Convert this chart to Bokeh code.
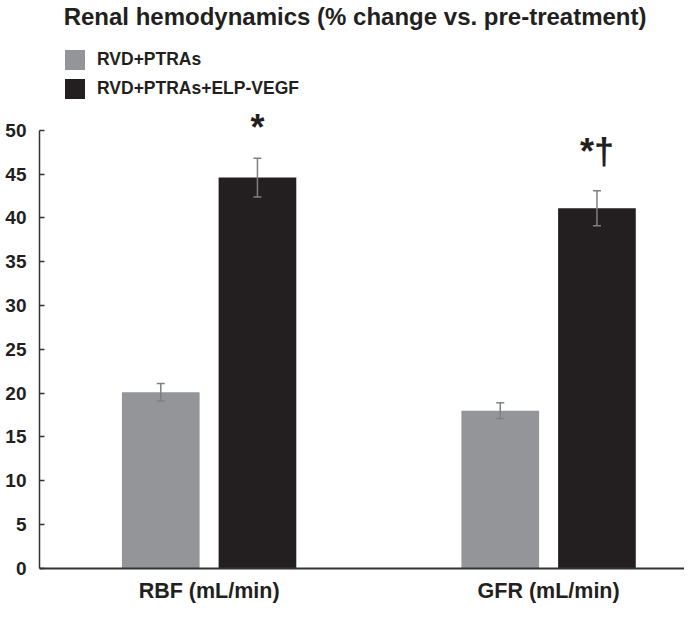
from bokeh.plotting import figure
from bokeh.models import (Range1d, FixedTicker, Legend, LegendItem, Whisker,
                          ColumnDataSource, Label, TeeHead)
from bokeh.core.properties import value
from bokeh.embed import file_html
from bokeh.resources import INLINE

# ---- data ----
categories = ["RBF (mL/min)", "GFR (mL/min)"]
series_names = ["RVD+PTRAs", "RVD+PTRAs+ELP-VEGF"]
ptras_values = [20.1, 18.0]
ptras_errors = [1.0, 0.9]
vegf_values = [44.6, 41.1]
vegf_errors = [2.2, 2.0]
sig_labels = ["*", "*\u2020"]
sig_y = [50.3, 47.6]
y_ticks = [0, 5, 10, 15, 20, 25, 30, 35, 40, 45, 50]
title_text = "Renal hemodynamics (% change vs. pre-treatment)"

# ---- styling / geometry ----
FONT = "Liberation Sans"
GRAY = "#939598"
BLACK = "#231f20"
ERR = "#808080"
AXIS = "#333333"
OFFSET = 0.1424
BAR_W = 0.2288
W, H = 684, 607
LEFT = 39
PX = 8.762          # pixels per y unit
Y0 = 567.9          # pixel row of y = 0 (from top)

group_x = [i + 1 for i in range(len(categories))]
gray_x = [g - OFFSET for g in group_x]
black_x = [g + OFFSET for g in group_x]

p = figure(width=W, height=H, output_backend="svg", toolbar_location=None,
           x_range=Range1d(0.5004, 2.4003),
           y_range=Range1d(-(H - Y0) / PX, Y0 / PX),
           min_border_left=LEFT, min_border_right=0, min_border_top=0,
           min_border_bottom=0)
p.outline_line_color = None
p.xgrid.visible = False
p.ygrid.visible = False
p.background_fill_color = "white"
p.border_fill_color = "white"

src_g = ColumnDataSource(dict(x=gray_x, top=ptras_values,
                              upper=[v + e for v, e in zip(ptras_values, ptras_errors)],
                              lower=[v - e for v, e in zip(ptras_values, ptras_errors)]))
src_b = ColumnDataSource(dict(x=black_x, top=vegf_values,
                              upper=[v + e for v, e in zip(vegf_values, vegf_errors)],
                              lower=[v - e for v, e in zip(vegf_values, vegf_errors)]))

r_g = p.vbar(x="x", top="top", width=BAR_W, source=src_g, fill_color=GRAY, line_color=None)
r_b = p.vbar(x="x", top="top", width=BAR_W, source=src_b, fill_color=BLACK, line_color=None)

for src in (src_g, src_b):
    w = Whisker(base="x", upper="upper", lower="lower", source=src, level="overlay",
                line_color=ERR, line_width=1.5,
                upper_head=TeeHead(size=8, line_color=ERR, line_width=1.5),
                lower_head=TeeHead(size=8, line_color=ERR, line_width=1.5))
    p.add_layout(w)

p.text(x=black_x, y=sig_y, text=sig_labels, text_font=value(FONT),
       text_font_style="bold", text_font_size="36px", text_align="center",
       text_baseline="alphabetic", text_color=BLACK)

# axes
p.yaxis.bounds = (0, 50)
p.yaxis.ticker = FixedTicker(ticks=y_ticks)
p.yaxis.minor_tick_line_color = None
p.yaxis.major_tick_in = 5
p.yaxis.major_tick_out = 0
p.yaxis.axis_line_color = AXIS
p.yaxis.axis_line_width = 1.5
p.yaxis.major_tick_line_color = AXIS
p.yaxis.major_tick_line_width = 1.5
p.yaxis.major_label_text_font = FONT
p.yaxis.major_label_text_font_style = "bold"
p.yaxis.major_label_text_font_size = "19px"
p.yaxis.major_label_text_color = BLACK
p.yaxis.major_label_standoff = 13

p.xaxis.fixed_location = 0
p.xaxis.ticker = FixedTicker(ticks=group_x)
p.xaxis.major_label_overrides = {g: c for g, c in zip(group_x, categories)}
p.xaxis.minor_tick_line_color = None
p.xaxis.major_tick_in = 0
p.xaxis.major_tick_out = 0
p.xaxis.axis_line_color = AXIS
p.xaxis.axis_line_width = 1.8
p.xaxis.major_label_text_font = FONT
p.xaxis.major_label_text_font_style = "bold"
p.xaxis.major_label_text_font_size = "21.5px"
p.xaxis.major_label_text_color = BLACK
p.xaxis.major_label_standoff = 11

# title
p.add_layout(Label(x=1.430, y=(Y0 - 15.6) / PX, text=title_text,
                   text_font=FONT, text_font_style="bold", text_font_size="24px",
                   text_align="center", text_baseline="middle", text_color=BLACK))

# legend
legend = Legend(items=[LegendItem(label=series_names[0], renderers=[r_g]),
                       LegendItem(label=series_names[1], renderers=[r_b])],
                location=(23, 506), padding=0, margin=0, spacing=4,
                glyph_width=25, glyph_height=25, label_height=25,
                label_standoff=10, border_line_color=None,
                background_fill_alpha=0,
                label_text_font=FONT, label_text_font_style="bold",
                label_text_font_size="17.5px", label_text_color=BLACK)
p.add_layout(legend, "center")

open("out.html", "w").write(file_html(p, INLINE))
